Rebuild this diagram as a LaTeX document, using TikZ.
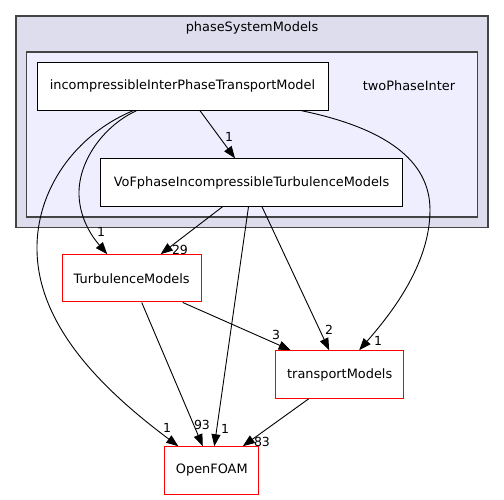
\documentclass[tikz,border=0pt]{standalone}
\usepackage{fontspec}
\setmainfont{DejaVu Sans}
\usetikzlibrary{arrows.meta,calc}
\definecolor{outerfill}{HTML}{DDDDEE}
\definecolor{innerfill}{HTML}{EEEEFF}
\definecolor{clusterline}{HTML}{444444}
\begin{document}
\begin{tikzpicture}[x=1pt,y=-1pt,
  box/.style={draw=black,fill=white,line width=1pt,inner sep=0pt,font=\fontsize{12.9}{15}\selectfont},
  redbox/.style={draw=red,fill=white,line width=1pt,inner sep=0pt,font=\fontsize{12.9}{15}\selectfont},
  dep/.style={draw=black,line width=0.9pt,-{Triangle[length=12pt,width=9pt]}},
  lbl/.style={font=\fontsize{12.5}{14}\selectfont,inner sep=0pt},
  cluster/.style={draw=clusterline,line width=1.4pt}]
\useasboundingbox (0,0) rectangle (504,500);
\fill[white] (0,0) rectangle (504,500);
% clusters
\draw[cluster,fill=outerfill] (16,16) rectangle (488,227.5);
\node[font=\fontsize{12.9}{15}\selectfont] (outerlbl) at (252,28) {phaseSystemModels};
\draw[cluster,fill=innerfill] (26.5,52) rectangle (477.5,217);
\node[font=\fontsize{12.9}{15}\selectfont] (innerlbl) at (409,86) {twoPhaseInter};
% nodes
\node[box,minimum width=291pt,minimum height=48pt] (inc) at (182.5,86.2) {incompressibleInterPhaseTransportModel};
\node[box,minimum width=301.5pt,minimum height=47.5pt] (vof) at (251.5,182.5) {VoFphaseIncompressibleTurbulenceModels};
\node[redbox,minimum width=138.7pt,minimum height=47.3pt] (turb) at (131.7,278.3) {TurbulenceModels};
\node[redbox,minimum width=128pt,minimum height=47.6pt] (trans) at (339.7,374.5) {transportModels};
\node[redbox,minimum width=94.3pt,minimum height=47.6pt] (of) at (211.8,470.5) {OpenFOAM};
% edges
\draw[dep] ([xshift=17.5pt]inc.south) -- ([xshift=-16.5pt]vof.north);
\node[lbl] (l1) at (229,137) {1};
\draw[dep] ([xshift=-46pt]inc.south) .. controls (105,125) and (78,160) .. (79,195)
  .. controls (80,222) and (95,240) .. ([xshift=-24.5pt]turb.north);
\node[lbl] (l2) at (101,232) {1};
\draw[dep] ([xshift=-49.5pt]inc.south) .. controls (75,135) and (36,190) .. (37,250)
  .. controls (38,330) and (110,395) .. ([xshift=-33.5pt]of.north);
\node[lbl] (l3) at (167,428) {1};
\draw[dep] ([xshift=119pt]inc.south) .. controls (385,128) and (430,160) .. (430,210)
  .. controls (430,265) and (390,315) .. ([xshift=19.5pt]trans.north);
\node[lbl] (l4) at (378,341) {1};
\draw[dep] ([xshift=-29pt]vof.south) -- ([xshift=29pt]turb.north);
\node[lbl] (l5) at (180,250) {29};
\draw[dep] ([xshift=-3pt]vof.south) -- ([xshift=2.5pt]of.north);
\node[lbl] (l6) at (225,429) {1};
\draw[dep] ([xshift=10.5pt]vof.south) -- ([xshift=-10.5pt]trans.north);
\node[lbl] (l7) at (329,330) {2};
\draw[dep] ([xshift=51pt]turb.south) -- ([xshift=-49pt]trans.north);
\node[lbl] (l8) at (276,335) {3};
\draw[dep] ([xshift=10pt]turb.south) -- ([xshift=-9pt]of.north);
\node[lbl] (l9) at (202,425) {93};
\draw[dep] ([xshift=-31pt]trans.south) -- ([xshift=31pt]of.north);
\node[lbl] (l10) at (262,442) {83};
\end{tikzpicture}
\end{document}
